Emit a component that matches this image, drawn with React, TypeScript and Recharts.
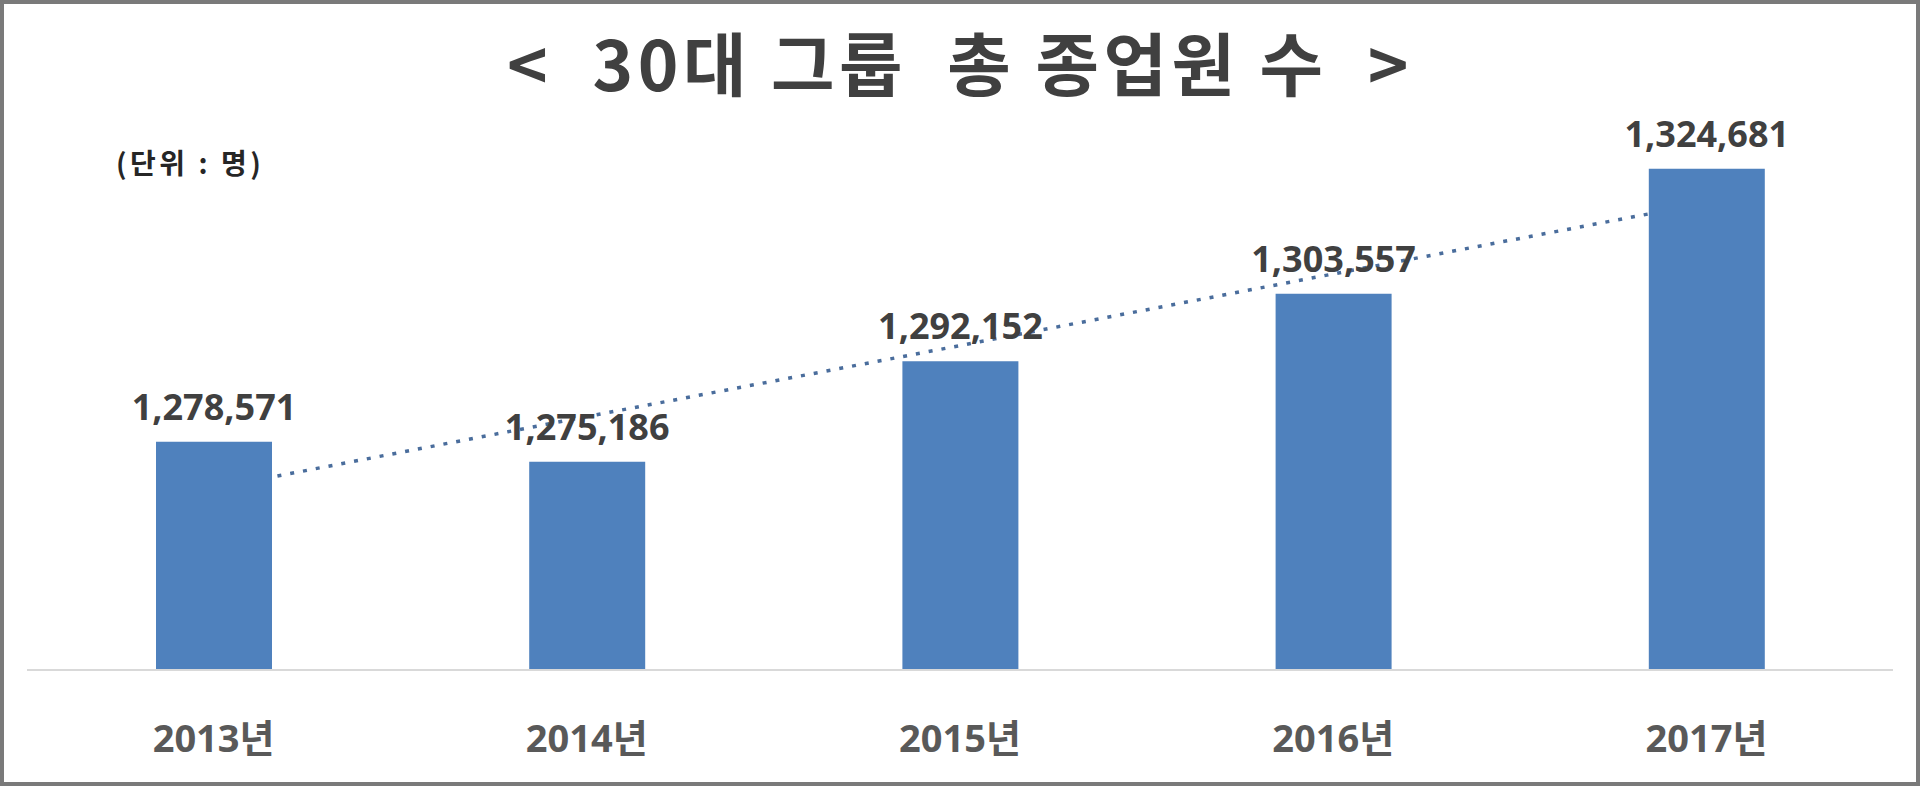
import { ComposedChart, Bar, Line, XAxis, YAxis, LabelList } from 'recharts';

const years = ['2013년', '2014년', '2015년', '2016년', '2017년'];
const employees = [1278571, 1275186, 1292152, 1303557, 1324681];
// dotted linear trendline at each year
const trend = [1270700, 1282800, 1294800, 1306900, 1318900];
const yDomain: [number, number] = [1240000, 1340000];

const data = years.map((year, i) => ({ year, employees: employees[i], trend: trend[i] }));

const fmt = (v: number) => Number(v).toLocaleString('en-US');

export default function App() {
  return (
    <div style={{ position: 'absolute', left: 0, top: 0, width: 1920, height: 786, background: '#fff', overflow: 'hidden' }}>
      <div
        style={{
          position: 'absolute',
          left: 0,
          right: 0,
          top: 16,
          textAlign: 'center',
          fontFamily: "'Noto Sans CJK KR', sans-serif",
          fontWeight: 700,
          fontSize: 69,
          letterSpacing: 4.5,
          lineHeight: '90px',
          color: '#404040',
          whiteSpace: 'pre',
        }}
      >
        {'<  30대 그룹  총 종업원 수  >'}
      </div>
      <div
        style={{
          position: 'absolute',
          left: 116,
          top: 144,
          fontFamily: "'Noto Sans CJK KR', sans-serif",
          fontWeight: 700,
          fontSize: 28,
          letterSpacing: 3.5,
          lineHeight: '36px',
          color: '#262626',
          whiteSpace: 'pre',
        }}
      >
        {'(단위 : 명)'}
      </div>
      <div style={{ position: 'absolute', left: 0, top: 0 }}>
        <ComposedChart width={1920} height={786} data={data} margin={{ top: 78, right: 27, bottom: 56, left: 27 }}>
          <XAxis
            dataKey="year"
            height={60}
            axisLine={{ stroke: '#d9d9d9', strokeWidth: 2 }}
            tickLine={false}
            tickSize={0}
            tickMargin={55}
            tick={{ fill: '#595959', fontSize: 38, fontWeight: 700, fontFamily: "'Noto Sans', 'Noto Sans CJK KR', sans-serif" }}
          />
          <YAxis hide domain={yDomain} allowDataOverflow />
          <Line
            dataKey="trend"
            stroke="#4a6d9c"
            strokeWidth={3.5}
            strokeDasharray="4 9"
            dot={false}
            activeDot={false}
            isAnimationActive={false}
            zIndex={100}
          />
          <Bar dataKey="employees" fill="#4f81bd" barSize={116} isAnimationActive={false}>
            <LabelList
              dataKey="employees"
              position="top"
              offset={22}
              formatter={fmt}
              fill="#404040"
              style={{ fontSize: 36, fontWeight: 700, fontFamily: "'Noto Sans', sans-serif" }}
            />
          </Bar>
        </ComposedChart>
      </div>
      <div style={{ position: 'absolute', inset: 0, border: '4px solid #7a7a7a', boxSizing: 'border-box' }} />
    </div>
  );
}
